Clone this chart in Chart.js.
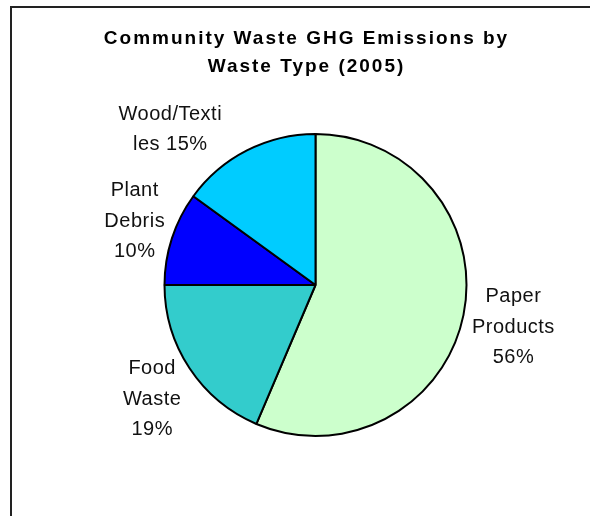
<!DOCTYPE html>
<html>
<head>
<meta charset="utf-8">
<script src="https://cdn.jsdelivr.net/npm/chart.js@4.4.0/dist/chart.umd.min.js"></script>
<style>
    body { margin: 0; background: #fff; }
    #wrap { width: 590px; height: 516px; }
</style>
</head>
<body>
<div id="wrap"><canvas id="wasteChart" width="590" height="516"></canvas></div>
<script>
// Chart data
const categories = ['Paper Products', 'Food Waste', 'Plant Debris', 'Wood/Textiles'];
const shares = [56.4, 18.6, 10.0, 15.0];
const sliceColors = ['#CCFFCC', '#33CCCC', '#0000FF', '#00CCFF'];
// label text as Excel wrapped it, {p} = percentage
const labelLines = [
    ['Paper', 'Products', '{p}'],
    ['Food', 'Waste', '{p}'],
    ['Plant', 'Debris', '{p}'],
    ['Wood/Texti', 'les {p}']
];
const titleLines = ['Community Waste GHG Emissions by', 'Waste Type (2005)'];

// label placement relative to each slice (angle nudge in degrees, distance in radii)
const labelShift = [0.5, -1.5, 1.5, -16];
const labelDist = [1.34, 1.32, 1.27, 1.41];

const FONT = '"Liberation Sans", Arial, sans-serif';

const frameAndTitle = {
    id: 'frameAndTitle',
    beforeDraw(chart) {
        const ctx = chart.ctx;
        ctx.save();
        ctx.fillStyle = '#fff';
        ctx.fillRect(0, 0, chart.width, chart.height);
        ctx.strokeStyle = '#222';
        ctx.lineWidth = 2;
        ctx.strokeRect(11, 7, chart.width + 20, chart.height + 20);
        ctx.restore();
    },
    afterDraw(chart) {
        const ctx = chart.ctx;
        ctx.save();
        ctx.fillStyle = '#000';
        ctx.font = 'bold 19px ' + FONT;
        ctx.letterSpacing = '2px';
        ctx.textAlign = 'center';
        ctx.textBaseline = 'alphabetic';
        titleLines.forEach((line, i) => {
            ctx.fillText(line, 306.5, 44 + i * 28);
        });
        ctx.restore();
    }
};

const sliceLabels = {
    id: 'sliceLabels',
    afterDatasetsDraw(chart) {
        const ctx = chart.ctx;
        const meta = chart.getDatasetMeta(0);
        const total = shares.reduce((a, b) => a + b, 0);
        ctx.save();
        ctx.fillStyle = '#111';
        ctx.font = '20px ' + FONT;
        ctx.letterSpacing = '0.5px';
        ctx.textAlign = 'center';
        ctx.textBaseline = 'middle';
        meta.data.forEach((arc, i) => {
            const p = arc.getProps(['x', 'y', 'startAngle', 'endAngle', 'outerRadius'], true);
            const mid = (p.startAngle + p.endAngle) / 2 + labelShift[i] * Math.PI / 180;
            const d = p.outerRadius * labelDist[i];
            const cx = p.x + Math.cos(mid) * d;
            const cy = p.y + Math.sin(mid) * d;
            const pct = Math.round(shares[i] / total * 100) + '%';
            const lines = labelLines[i].map(s => s.replace('{p}', pct));
            const lh = 30.5;
            lines.forEach((line, j) => {
                ctx.fillText(line, cx, cy + (j - (lines.length - 1) / 2) * lh);
            });
        });
        ctx.restore();
    }
};

const ctx = document.getElementById('wasteChart').getContext('2d');
new Chart(ctx, {
    type: 'pie',
    data: {
        labels: categories,
        datasets: [{
            data: shares,
            backgroundColor: sliceColors,
            borderColor: '#000',
            borderWidth: 2
        }]
    },
    options: {
        responsive: false,
        animation: false,
        radius: 151,
        layout: {
            padding: { left: 41, right: 0, top: 54, bottom: 0 }
        },
        plugins: {
            legend: { display: false },
            tooltip: { enabled: false },
            title: { display: false }
        }
    },
    plugins: [frameAndTitle, sliceLabels]
});
</script>
</body>
</html>
